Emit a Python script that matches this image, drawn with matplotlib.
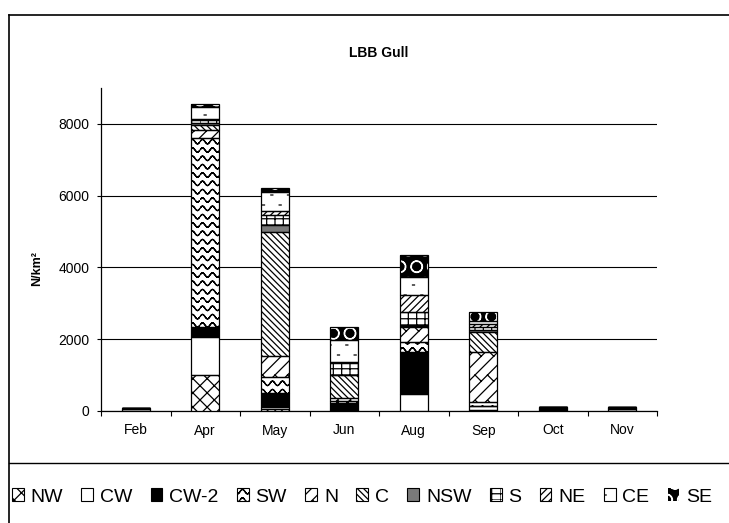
import numpy as np
import matplotlib as mpl
import matplotlib.pyplot as plt
import matplotlib.hatch as mhatch
import matplotlib.patches as mpatches
from matplotlib.lines import Line2D
from matplotlib.path import Path

mpl.rcParams["font.family"] = ["Liberation Sans", "DejaVu Sans"]
mpl.rcParams["hatch.linewidth"] = 0.9

months = ["Feb", "Apr", "May", "Jun", "Aug", "Sep", "Oct", "Nov"]
sites = ["NW", "CW", "CW-2", "SW", "N", "C", "NSW", "S", "NE", "CE", "SE"]

nw = [10, 1000, 50, 0, 0, 30, 0, 10]
cw = [40, 1060, 60, 0, 470, 110, 0, 50]
cw2 = [0, 280, 390, 220, 1170, 0, 100, 0]
sw = [20, 5270, 450, 70, 280, 110, 0, 20]
n = [0, 220, 580, 70, 420, 1390, 0, 20]
c = [0, 140, 3470, 640, 30, 560, 0, 0]
nsw = [0, 60, 180, 0, 30, 50, 0, 0]
s = [20, 80, 280, 330, 360, 100, 0, 10]
ne = [0, 40, 100, 30, 475, 70, 0, 0]
ce = [0, 330, 550, 610, 500, 90, 0, 0]
se = [0, 80, 90, 360, 610, 250, 0, 0]
series = [nw, cw, cw2, sw, n, c, nsw, s, ne, ce, se]

y_ticks = [0, 2000, 4000, 6000, 8000]


# ---------- Excel-like fill patterns, built as hatch segments in the unit tile ----------
def clip_unit(p, q):
    # clip a segment to the unit square (Liang-Barsky)
    x0, y0 = p
    dx, dy = q[0] - x0, q[1] - y0
    t0, t1 = 0.0, 1.0
    for pk, qk in ((-dx, x0), (dx, 1 - x0), (-dy, y0), (dy, 1 - y0)):
        if pk == 0:
            if qk < 0:
                return None
        else:
            t = qk / pk
            if pk < 0:
                t0 = max(t0, t)
            else:
                t1 = min(t1, t)
    if t0 >= t1:
        return None
    return (x0 + t0 * dx, y0 + t0 * dy), (x0 + t1 * dx, y0 + t1 * dy)


def clipped(raw):
    return [r for r in (clip_unit(p, q) for p, q in raw) if r is not None]


def diag(m, up=True):
    raw = []
    for k in range(-m, m + 1):
        cc = k / m
        if up:
            raw.append(((-1, -1 + cc), (2, 2 + cc)))
        else:
            raw.append(((-1, 2 + cc), (2, -1 + cc)))
    return clipped(raw)


def grid(nx, ny):
    raw = [((i / nx, 0), (i / nx, 1)) for i in range(nx)]
    raw += [((0, j / ny), (1, j / ny)) for j in range(ny)]
    return raw


def wave(rows=12, periods=10, amp=0.022):
    xs = np.linspace(0, 1, periods * 16 + 1)
    raw = []
    for i in range(-1, rows + 1):
        ys = i / rows + amp * np.sin(2 * np.pi * periods * xs)
        for k in range(len(xs) - 1):
            raw.append(((xs[k], ys[k]), (xs[k + 1], ys[k + 1])))
    return clipped(raw)


def brick(m=8):
    raw = []
    for k in range(-m, m + 1):
        cc = k / m
        raw.append(((-1, -1 + cc), (2, 2 + cc)))
        for j in range(-m, m + 1):
            x0 = (j + 0.5 * (k % 2)) * 2 / m
            raw.append(((x0, x0 + cc), (x0 + 0.5 / m, x0 + cc - 0.5 / m)))
    return clipped(raw)


def dots(nx=6, ny=10, size=0.02):
    raw = []
    for j in range(ny):
        for i in range(nx):
            x0 = (i + 0.5 * (j % 2) + 0.25) / nx
            y0 = (j + 0.5) / ny
            raw.append(((x0, y0), (x0 + size, y0)))
    return raw


patterns = {
    "x": diag(7, True) + diag(7, False),
    "\\": diag(16, False),
    "/": diag(14, True),
    "+": grid(12, 16),
    "o": wave(),
    "*": brick(),
    ".": dots(),
}


class PatternHatch(mhatch.HatchPatternBase):
    def __init__(self, hatch, density):
        self.segs = []
        for ch in sorted(set(hatch)):
            self.segs.extend(patterns.get(ch, []))
        self.num_vertices = 2 * len(self.segs)

    def set_vertices_and_codes(self, vertices, codes):
        arr = np.array(self.segs)
        vertices[0::2] = arr[:, 0, :]
        vertices[1::2] = arr[:, 1, :]
        codes[0::2] = Path.MOVETO
        codes[1::2] = Path.LINETO


mhatch._hatch_types = [PatternHatch, mhatch.LargeCircles]

# face colour, hatch, hatch colour
styles = {
    "NW": ("white", "x", "black"),
    "CW": ("white", "", "black"),
    "CW-2": ("black", "", "black"),
    "SW": ("white", "o", "black"),
    "N": ("white", "*", "black"),
    "C": ("white", "\\", "black"),
    "NSW": ("#7a7a7a", "", "black"),
    "S": ("white", "+", "black"),
    "NE": ("white", "/", "black"),
    "CE": ("white", ".", "black"),
    "SE": ("black", "O", "white"),
}

fig = plt.figure(figsize=(7.29, 5.23), dpi=100)
W, H = 729, 523
ax = fig.add_axes([101 / W, 1 - 411 / H, 556 / W, 323 / H])

x = np.arange(len(months))
bottom = np.zeros(len(months))
handles = []
for name, vals in zip(sites, series):
    face, hatch, hcol = styles[name]
    ax.bar(x, vals, 0.4, bottom=bottom, color=face, edgecolor=hcol,
           hatch=hatch, linewidth=0, zorder=3)
    ax.bar(x, vals, 0.4, bottom=bottom, fill=False, edgecolor="black",
           linewidth=0.9, zorder=4)
    bottom += np.array(vals)
    handles.append(mpatches.Patch(facecolor=face, edgecolor=hcol, hatch=hatch,
                                  linewidth=0 if name == "SE" else 0.8,
                                  label=name))

ax.set_xlim(-0.5, len(months) - 0.5)
ax.set_ylim(0, 9000)
ax.set_yticks(y_ticks)
ax.set_yticklabels([str(v) for v in y_ticks])
ax.set_xticks(x, months)
ax.set_xticks(np.arange(-0.5, len(months)), minor=True)
ax.tick_params(axis="x", which="major", length=0, pad=9, labelsize=10)
ax.tick_params(axis="x", which="minor", length=3.5, width=0.8, direction="out")
ax.tick_params(axis="y", length=3, width=0.8, pad=5.5, labelsize=10)

ax.yaxis.grid(True, color="black", linewidth=0.8)
ax.set_axisbelow(True)
for side in ("top", "right"):
    ax.spines[side].set_visible(False)
for side in ("left", "bottom"):
    ax.spines[side].set_linewidth(0.9)

ax.set_ylabel("N/km²", fontsize=9, fontweight="bold")
ax.yaxis.set_label_coords(-0.104, 0.44)

fig.text(379 / W, 1 - 53 / H, "LBB Gull", ha="center", va="center",
         fontsize=10, fontweight="bold")

# chart area border and legend box
fig.add_artist(Line2D([9 / W, 9 / W], [0, 1 - 15 / H], color="black", lw=1.2))
fig.add_artist(Line2D([9 / W, 1], [1 - 15 / H, 1 - 15 / H], color="black", lw=1.2))
fig.add_artist(Line2D([9 / W, 1], [1 - 463 / H, 1 - 463 / H], color="black", lw=1.0))

fig.legend(handles=handles, loc="center left", bbox_to_anchor=(12 / W, 1 - 497 / H),
           ncol=len(sites), frameon=False, fontsize=14, handlelength=0.6,
           handleheight=0.6, handletextpad=0.35, columnspacing=0.95, borderpad=0,
           borderaxespad=0)

fig.savefig("out.png", dpi=100)
